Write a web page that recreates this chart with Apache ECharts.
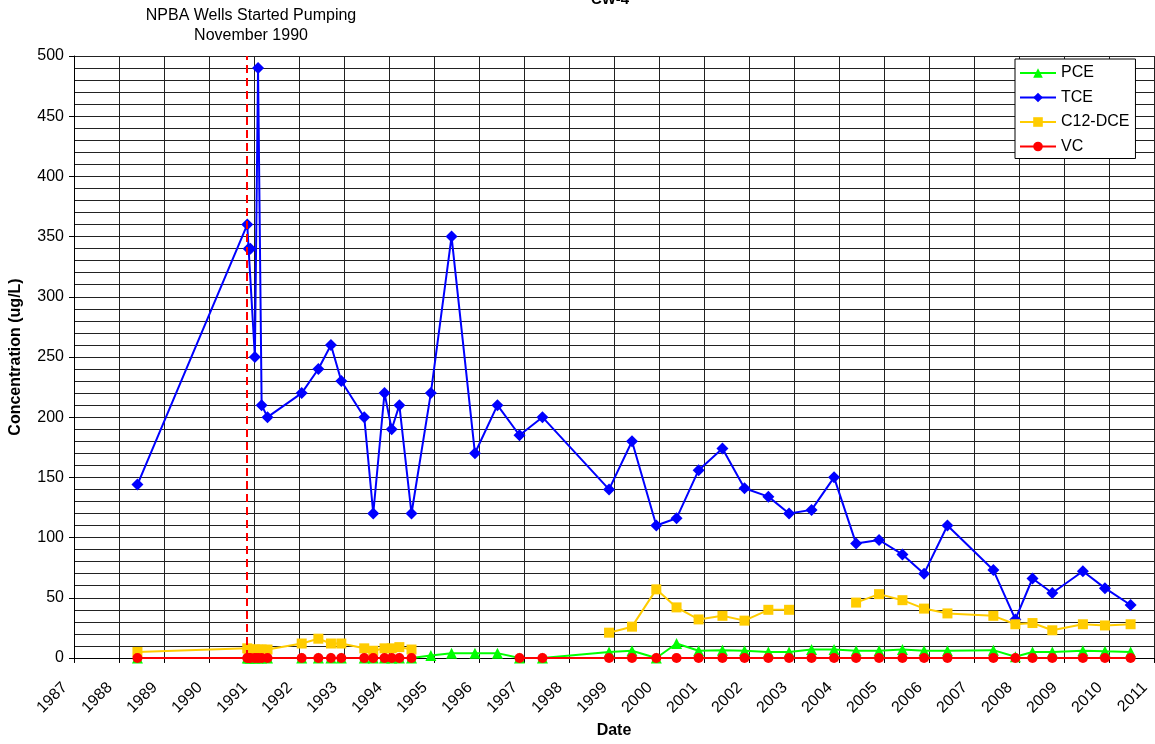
<!DOCTYPE html>
<html>
<head>
<meta charset="utf-8">
<title>CW-4</title>
<script src="https://cdn.jsdelivr.net/npm/echarts@6/dist/echarts.min.js"></script>
<style>
html, body { margin: 0; padding: 0; background: #fff; }
#main { width: 1155px; height: 744px; }
</style>
</head>
<body>
<div id="main"></div>
<script>
// sampling dates, as decimal years
const dates = [
    1988.41, 1990.85, 1990.88, 1990.92, 1991.02, 1991.09, 1991.17, 1991.30,
    1992.06, 1992.43, 1992.71, 1992.94, 1993.45, 1993.65, 1993.90, 1994.06,
    1994.23, 1994.50, 1994.93, 1995.39, 1995.91, 1996.41, 1996.90, 1997.41,
    1998.89, 1999.40, 1999.94, 2000.39, 2000.88, 2001.41, 2001.90, 2002.43,
    2002.89, 2003.39, 2003.89, 2004.38, 2004.89, 2005.41, 2005.89, 2006.41,
    2007.43, 2007.92, 2008.30, 2008.74, 2009.42, 2009.91, 2010.48
]
// concentrations (ug/L), null = not sampled
const pce = [
    0, 0, 0, 0, 0, 0, 0, 0,
    0, 0, 0, 0, 0, 0, 0, 0,
    0, 0, 2, 4, 4, 4, 0, 0,
    5, 6, 0, 12, 6, 6.5, 6, 5,
    5, 7, 7, 6, 6, 7, 6, 6,
    6.5, 1, 5, 5, 6, 5.5, 5
]
const tce = [
    144, 360, 340, 340, 250, 490, 210, 200,
    220, 240, 260, 230, 200, 120, 220, 190,
    210, 120, 220, 350, 170, 210, 185, 200,
    140, 180, 110, 116, 156, 174, 141, 134,
    120, 123, 150, 95, 98, 86, 70, 110,
    73, 32, 66, 54, 72, 58, 44
]
const dce = [
    5, 8, 7, 7, 7, 7, 7, 7,
    12, 16, 12, 12, 8, 6, 8, 8,
    9, 7, null, null, null, null, null, null,
    21, 26, 57, 42, 32, 35, 31, 40,
    40, null, null, 46, 53, 48, 41, 37,
    35, 28, 29, 23, 28, 27, 28
]
const vc = [
    0, 0, 0, 0, 0, 0, 0, 0,
    0, 0, 0, 0, 0, 0, 0, 0,
    0, 0, null, null, null, null, 0, 0,
    0, 0, 0, 0, 0, 0, 0, 0,
    0, 0, 0, 0, 0, 0, 0, 0,
    0, 0, 0, 0, 0, 0, 0
]
const pumpStart = 1990.83 // November 1990

const font = 'Arial, "Liberation Sans", sans-serif'

// missing samples break the line, like the original
const pairs = vals => dates.map((d, i) => [d, vals[i] === null ? '-' : vals[i]])

const mkSeries = (name, vals, symbol, color, size) => ({
    name: name,
    type: 'line',
    data: pairs(vals),
    symbol: symbol,
    symbolSize: size,
    showAllSymbol: true,
    connectNulls: false,
    itemStyle: { color: color },
    lineStyle: { color: color, width: 2 },
    emphasis: { disabled: true }
})

const series = [
    mkSeries('PCE', pce, 'triangle', '#00ff00', 11),
    mkSeries('TCE', tce, 'diamond', '#0000ff', 12),
    mkSeries('C12-DCE', dce, 'rect', '#ffcc00', 10),
    mkSeries('VC', vc, 'circle', '#ff0000', 10)
]
series[0].markLine = {
    silent: true,
    symbol: ['none', 'none'],
    label: { show: false },
    lineStyle: { color: '#ff0000', type: [8, 5], width: 2 },
    data: [{ xAxis: pumpStart }]
}

const gridColor = '#222'

const option = {
    animation: false,
    textStyle: { fontFamily: font },
    grid: { left: 73, right: 1, top: 56, bottom: 85 },
    graphic: [
        {
            type: 'text', x: 610, y: 7,
            style: { text: 'CW-4', font: 'bold 15px ' + font, fill: '#000', textAlign: 'center', textVerticalAlign: 'bottom' }
        },
        {
            type: 'text', x: 251, y: 6,
            style: {
                text: 'NPBA Wells Started Pumping\nNovember 1990',
                font: '16px ' + font, fill: '#000', textAlign: 'center', lineHeight: 20
            }
        }
    ],
    legend: {
        data: ['PCE', 'TCE', 'C12-DCE', 'VC'],
        orient: 'vertical',
        left: 1015,
        top: 59,
        itemWidth: 36,
        itemHeight: 12,
        itemGap: 8.5,
        padding: [6, 6, 4, 4],
        backgroundColor: '#fff',
        borderColor: '#000',
        borderWidth: 1,
        textStyle: { fontSize: 16, color: '#000', fontFamily: font }
    },
    xAxis: {
        type: 'value',
        min: 1987,
        max: 2011,
        interval: 1,
        name: 'Date',
        nameLocation: 'middle',
        nameGap: 63,
        nameTextStyle: { fontWeight: 'bold', fontSize: 16, color: '#000', fontFamily: font },
        axisLine: { onZero: false, lineStyle: { color: '#000' } },
        axisTick: { show: true, length: 5, lineStyle: { color: '#000' } },
        axisLabel: {
            rotate: 45, fontSize: 16, color: '#000', margin: 18,
            padding: [0, 13, 0, 0],
            formatter: v => String(v)
        },
        splitLine: { show: true, lineStyle: { color: gridColor } }
    },
    yAxis: {
        type: 'value',
        min: 0,
        max: 500,
        interval: 50,
        name: 'Concentration (ug/L)',
        nameLocation: 'middle',
        nameGap: 50,
        nameTextStyle: { fontWeight: 'bold', fontSize: 16, color: '#000', fontFamily: font },
        axisLine: { show: true, lineStyle: { color: '#000' } },
        axisTick: { show: true, length: 5, lineStyle: { color: '#000' } },
        axisLabel: { fontSize: 16, color: '#000', margin: 10 },
        splitLine: { show: true, lineStyle: { color: gridColor } },
        minorTick: { show: false, splitNumber: 5 },
        minorSplitLine: { show: true, lineStyle: { color: gridColor } }
    },
    series: series
}

const myChart = echarts.init(document.getElementById('main'))
myChart.setOption(option)
</script>
</body>
</html>
